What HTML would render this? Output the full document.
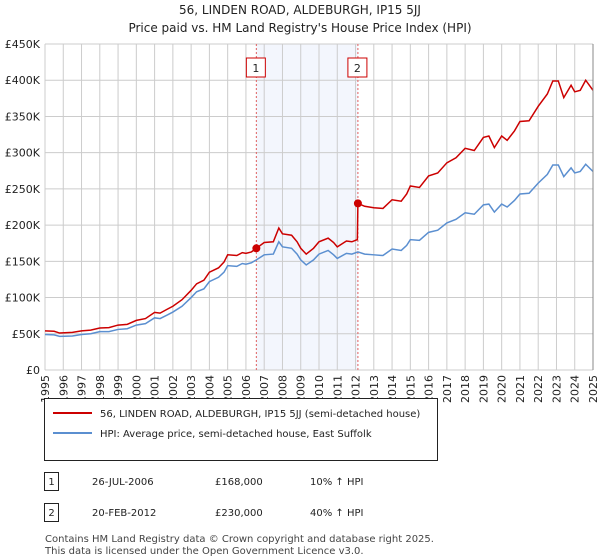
<!DOCTYPE html>
<html><head><meta charset="utf-8"><style>
body{margin:0;background:#fff;font-family:"DejaVu Sans","Liberation Sans",sans-serif;}
#wrap{position:relative;width:600px;height:560px;overflow:hidden}
svg text{font-family:"DejaVu Sans","Liberation Sans",sans-serif;}
</style></head><body>
<div id="wrap">
<svg id="svg" width="600" height="560" style="position:absolute;left:0;top:0">
<text x="300" y="14" text-anchor="middle" font-size="12" fill="#222">56, LINDEN ROAD, ALDEBURGH, IP15 5JJ</text>
<text x="300" y="32" text-anchor="middle" font-size="12" fill="#222">Price paid vs. HM Land Registry's House Price Index (HPI)</text>
<g id="plot"></g>
<g>
<rect x="44.5" y="398.5" width="393" height="62" fill="#fff" stroke="#222"/>
<line x1="53" y1="413" x2="92" y2="413" stroke="#cc0000" stroke-width="2"/>
<text x="100" y="417" font-size="10" fill="#222">56, LINDEN ROAD, ALDEBURGH, IP15 5JJ (semi-detached house)</text>
<line x1="53" y1="433" x2="92" y2="433" stroke="#5b8fd0" stroke-width="2"/>
<text x="100" y="437" font-size="10" fill="#222">HPI: Average price, semi-detached house, East Suffolk</text>
</g>
<g font-size="10" fill="#222">
<rect x="44.5" y="472.5" width="14" height="18" fill="#fff" stroke="#222"/>
<text x="51.5" y="485" text-anchor="middle">1</text>
<text x="92" y="485">26-JUL-2006</text><text x="215" y="485">£168,000</text><text x="310" y="485">10% ↑ HPI</text>
<rect x="44.5" y="503.5" width="14" height="18" fill="#fff" stroke="#222"/>
<text x="51.5" y="516" text-anchor="middle">2</text>
<text x="92" y="516">20-FEB-2012</text><text x="215" y="516">£230,000</text><text x="310" y="516">40% ↑ HPI</text>
</g>
<text x="45" y="542" font-size="10" fill="#444">Contains HM Land Registry data © Crown copyright and database right 2025.</text>
<text x="45" y="554" font-size="10" fill="#444">This data is licensed under the Open Government Licence v3.0.</text>
</svg>
</div>
<script>
const yTicks=[0,50,100,150,200,250,300,350,400,450];
const yLabels=["£0","£50K","£100K","£150K","£200K","£250K","£300K","£350K","£400K","£450K"];
const xYears=[1995,1996,1997,1998,1999,2000,2001,2002,2003,2004,2005,2006,2007,2008,2009,2010,2011,2012,2013,2014,2015,2016,2017,2018,2019,2020,2021,2022,2023,2024,2025];
const hpiYears=[1995,1995.5,1995.8,1996.5,1997,1997.5,1998,1998.5,1999,1999.5,2000,2000.5,2001,2001.3,2001.7,2002,2002.5,2003,2003.3,2003.7,2004,2004.5,2004.8,2005,2005.5,2005.8,2006,2006.3,2006.57,2007,2007.5,2007.8,2008,2008.5,2008.8,2009,2009.3,2009.7,2010,2010.5,2010.8,2011,2011.5,2011.8,2012.13,2012.5,2013,2013.5,2014,2014.5,2014.8,2015,2015.5,2016,2016.5,2017,2017.5,2018,2018.5,2019,2019.3,2019.6,2020,2020.3,2020.7,2021,2021.5,2022,2022.5,2022.8,2023.1,2023.4,2023.8,2024,2024.3,2024.6,2025];
const hpiValues=[49,48.5,46.5,47,49,50,53,53,56,57,62,64,72,71,76,80,88,100,108,112,122,128,135,144,143,147,146,148,152,159,160,177,170,168,160,152,145,152,160,165,159,154,161,160,163,160,159,158,167,165,172,180,179,190,193,203,208,217,215,228,229,218,229,225,234,243,244,258,270,283,283,267,279,272,274,284,274];
const priceYears=[1995,1995.5,1995.8,1996.5,1997,1997.5,1998,1998.5,1999,1999.5,2000,2000.5,2001,2001.3,2001.7,2002,2002.5,2003,2003.3,2003.7,2004,2004.5,2004.8,2005,2005.5,2005.8,2006,2006.3,2006.57,2007,2007.5,2007.8,2008,2008.5,2008.8,2009,2009.3,2009.7,2010,2010.5,2010.8,2011,2011.5,2011.8,2012.1,2012.13,2012.5,2013,2013.5,2014,2014.5,2014.8,2015,2015.5,2016,2016.5,2017,2017.5,2018,2018.5,2019,2019.3,2019.6,2020,2020.3,2020.7,2021,2021.5,2022,2022.5,2022.8,2023.1,2023.4,2023.8,2024,2024.3,2024.6,2025];
const priceValues=[54,53.5,51,52,54,55,58,58.5,62,63,68.5,71,79.5,78.5,84,88,97,110,119,124,135,141,149,159,158,162,161,163,168,176,177,196,188,186,177,168,160,168,177,182,176,170,178,177,180,230,226,224,223,235,233,243,254,252,268,272,286,293,306,303,321,323,307,323,317,330,343,344,364,381,399,399,376,393,384,386,400,386];
const sales=[{n:"1",year:2006.57,value:168},{n:"2",year:2012.13,value:230}];

const L=45,R=593,T=44,B=370;
const X=y=>L+(y-1995)/30*(R-L);
const Y=v=>B-v/450*(B-T);
const g=document.getElementById('plot');
const NS='http://www.w3.org/2000/svg';
function mk(tag,attrs,parent){const e=document.createElementNS(NS,tag);for(const k in attrs)e.setAttribute(k,attrs[k]);(parent||g).appendChild(e);return e;}
const shade=mk('rect',{x:X(sales[0].year),y:T,width:X(sales[1].year)-X(sales[0].year),height:B-T,fill:'#eef2fc',opacity:0.7});


xYears.forEach(y=>{const l=mk('line',{x1:X(y),x2:X(y),y1:T,y2:B,stroke:'#cccccc','stroke-width':1});


const t=mk('text',{x:0,y:0,'font-size':11,fill:'#222','text-anchor':'end',transform:`translate(${X(y)+4},${B+5}) rotate(-90)`});t.textContent=y;

});
yTicks.forEach((v,i)=>{const l=mk('line',{x1:L,x2:R,y1:Y(v),y2:Y(v),stroke:'#cccccc','stroke-width':1});


const t=mk('text',{x:40,y:Y(v)+4,'font-size':11,fill:'#222','text-anchor':'end'});t.textContent=yLabels[i];

});
sales.forEach(s=>{const l=mk('line',{x1:X(s.year),x2:X(s.year),y1:T,y2:B,stroke:'#e06060','stroke-width':1,'stroke-dasharray':'2,2'});


const r=mk('rect',{x:X(s.year)-10,y:58,width:19,height:19,fill:'#fff',stroke:'#cc0000'});


const t=mk('text',{x:X(s.year)-0.5,y:72,'font-size':11,fill:'#222','text-anchor':'middle'});t.textContent=s.n;

});
const hp=mk('polyline',{points:hpiYears.map((y,i)=>X(y)+','+Y(hpiValues[i])).join(' '),fill:'none',stroke:'#5b8fd0','stroke-width':1.5});


const pp=mk('polyline',{points:priceYears.map((y,i)=>X(y)+','+Y(priceValues[i])).join(' '),fill:'none',stroke:'#cc0000','stroke-width':1.5});


sales.forEach(s=>{const c=mk('circle',{cx:X(s.year),cy:Y(s.value),r:4,fill:'#cc0000'});

});
const ax=mk('line',{x1:R,x2:R,y1:T,y2:B,stroke:'#888','stroke-width':1});


</script>
</body></html>
